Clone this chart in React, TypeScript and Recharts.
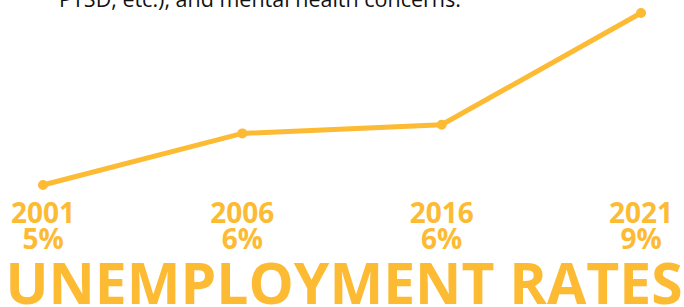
import React from 'react';
import { LineChart, Line, XAxis, YAxis } from 'recharts';

const years = ['2001', '2006', '2016', '2021'];
const rates = [5, 6.2, 6.4, 9];
const rateLabels = ['5%', '6%', '6%', '9%'];

const data = years.map((year, i) => ({ year, rate: rates[i], label: rateLabels[i] }));

const GOLD = '#FDBA33';
const FONT = '"Open Sans", sans-serif';

const YearTick = (props: any) => {
  const { x, y, payload, index } = props;
  return (
    <g>
      <text x={x} y={y + 38} textAnchor="middle" fill={GOLD} fontFamily={FONT} fontWeight={700} fontSize={28}>
        {payload.value}
      </text>
      <text x={x} y={y + 64} textAnchor="middle" fill={GOLD} fontFamily={FONT} fontWeight={700} fontSize={28}>
        {rateLabels[index]}
      </text>
    </g>
  );
};

const App = () => {
  return (
    <div style={{ position: 'absolute', left: 0, top: 0, width: 684, height: 307, background: '#fff', overflow: 'hidden' }}>
      <LineChart width={684} height={307} data={data} margin={{ top: 13, right: 43, left: 43, bottom: 52 }}>
        <XAxis
          dataKey="year"
          axisLine={false}
          tickLine={false}
          tickSize={0}
          tickMargin={0}
          height={70}
          interval={0}
          tick={<YearTick />}
        />
        <YAxis hide domain={[5, 9]} />
        <Line
          type="linear"
          dataKey="rate"
          stroke={GOLD}
          strokeWidth={5}
          dot={{ r: 4, fill: GOLD, stroke: GOLD, strokeWidth: 2 }}
          isAnimationActive={false}
        />
      </LineChart>
      <svg width={684} height={307} style={{ position: 'absolute', left: 0, top: 0, pointerEvents: 'none' }}>
        <text x={260} y={7} textAnchor="middle" fill="#111" fontFamily={FONT} fontSize={21.5}>
          PTSD, etc.), and mental health concerns.
        </text>
        <text x={344} y={304} textAnchor="middle" fill={GOLD} fontFamily={FONT} fontWeight={700} fontSize={57}>
          UNEMPLOYMENT RATES
        </text>
      </svg>
    </div>
  );
};

export default App;
